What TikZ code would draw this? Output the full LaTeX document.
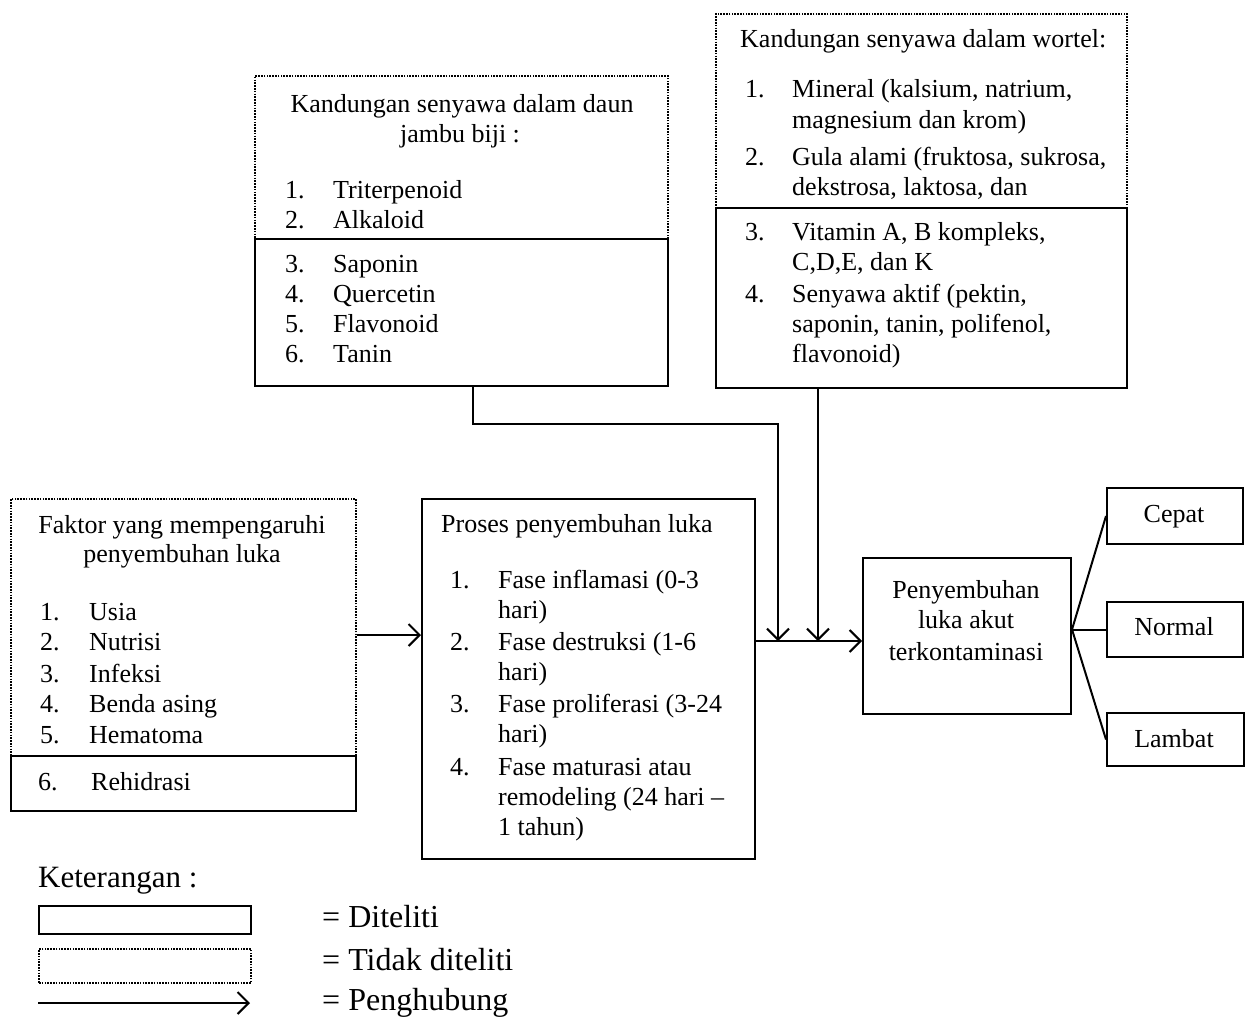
\documentclass[tikz,border=0pt]{standalone}
\usepackage{fontspec}
\setmainfont{Liberation Serif}
\usetikzlibrary{arrows.meta}
\begin{document}
\begin{tikzpicture}[x=1pt,y=-1pt,
  solidbox/.style={draw, line width=2pt, inner sep=0pt, anchor=north west},
  dotbox/.style={draw, line width=2pt, dash pattern=on 1.6pt off 1.2pt, inner sep=0pt, anchor=north west},
  txt/.style={inner sep=0pt, anchor=base west, font=\fontsize{26}{31}\selectfont},
  ctxt/.style={txt, anchor=base},
  ltxt/.style={inner sep=0pt, anchor=base west, font=\fontsize{32}{36}\selectfont},
  conn/.style={line width=2pt},
  arr/.style={conn, -{Straight Barb[length=11pt,width=22pt,line width=2pt]}}
]
\newcommand\tl[4]{\node[txt] (#1) at (#2,#3) {#4};}
\useasboundingbox (0,0) rectangle (1252,1018);

% --- daun jambu biji box
\node[dotbox, minimum width=413pt, minimum height=310pt] (jambu) at (254,75) {};
\node[solidbox, minimum width=413pt, minimum height=147pt] (jambuS) at (254,238) {};
\node[ctxt] (jh1) at (462,112) {Kandungan senyawa dalam daun};
\node[ctxt] (jh2) at (460,142) {jambu biji :};
\tl{jn1}{285}{198}{1.}\tl{ji1}{333}{198}{Triterpenoid}
\tl{jn2}{285}{228}{2.}\tl{ji2}{333}{228}{Alkaloid}
\tl{jn3}{285}{272}{3.}\tl{ji3}{333}{272}{Saponin}
\tl{jn4}{285}{302}{4.}\tl{ji4}{333}{302}{Quercetin}
\tl{jn5}{285}{332}{5.}\tl{ji5}{333}{332}{Flavonoid}
\tl{jn6}{285}{362}{6.}\tl{ji6}{333}{362}{Tanin}

% --- wortel box
\node[dotbox, minimum width=411pt, minimum height=374pt] (wort) at (715,13) {};
\node[solidbox, minimum width=411pt, minimum height=180pt] (wortS) at (715,207) {};
\tl{wh}{740}{47}{Kandungan senyawa dalam wortel:}
\tl{wn1}{745}{97}{1.}\tl{wi1a}{792}{97}{Mineral (kalsium, natrium,}
\tl{wi1b}{792}{128}{magnesium dan krom)}
\tl{wn2}{745}{165}{2.}\tl{wi2a}{792}{165}{Gula alami (fruktosa, sukrosa,}
\tl{wi2b}{792}{195}{dekstrosa, laktosa, dan}
\tl{wn3}{745}{240}{3.}\tl{wi3a}{792}{240}{Vitamin A, B kompleks,}
\tl{wi3b}{792}{270}{C,D,E, dan K}
\tl{wn4}{745}{302}{4.}\tl{wi4a}{792}{302}{Senyawa aktif (pektin,}
\tl{wi4b}{792}{332}{saponin, tanin, polifenol,}
\tl{wi4c}{792}{362}{flavonoid)}

% --- faktor box
\node[dotbox, minimum width=345pt, minimum height=312pt] (faktor) at (10,498) {};
\node[solidbox, minimum width=345pt, minimum height=55pt] (faktorS) at (10,755) {};
\node[ctxt] (fh1) at (182,533) {Faktor yang mempengaruhi};
\node[ctxt] (fh2) at (182,562) {penyembuhan luka};
\tl{fn1}{40}{620}{1.}\tl{fi1}{89}{620}{Usia}
\tl{fn2}{40}{650}{2.}\tl{fi2}{89}{650}{Nutrisi}
\tl{fn3}{40}{682}{3.}\tl{fi3}{89}{682}{Infeksi}
\tl{fn4}{40}{712}{4.}\tl{fi4}{89}{712}{Benda asing}
\tl{fn5}{40}{743}{5.}\tl{fi5}{89}{743}{Hematoma}
\tl{fn6}{38}{790}{6.}\tl{fi6}{91}{790}{Rehidrasi}

% --- proses box
\node[solidbox, minimum width=333pt, minimum height=360pt] (proses) at (421,498) {};
\tl{ph}{441}{532}{Proses penyembuhan luka}
\tl{pn1}{450}{588}{1.}\tl{pi1a}{498}{588}{Fase inflamasi (0-3}
\tl{pi1b}{498}{618}{hari)}
\tl{pn2}{450}{650}{2.}\tl{pi2a}{498}{650}{Fase destruksi (1-6}
\tl{pi2b}{498}{680}{hari)}
\tl{pn3}{450}{712}{3.}\tl{pi3a}{498}{712}{Fase proliferasi (3-24}
\tl{pi3b}{498}{742}{hari)}
\tl{pn4}{450}{775}{4.}\tl{pi4a}{498}{775}{Fase maturasi atau}
\tl{pi4b}{498}{805}{remodeling (24 hari --}
\tl{pi4c}{498}{835}{1 tahun)}

% --- penyembuhan box
\node[solidbox, minimum width=208pt, minimum height=156pt] (peny) at (862,557) {};
\node[ctxt] (py1) at (966,598) {Penyembuhan};
\node[ctxt] (py2) at (966,628) {luka akut};
\node[ctxt] (py3) at (966,660) {terkontaminasi};

% --- outcome boxes
\node[solidbox, minimum width=136pt, minimum height=56pt] (cepat) at (1106,487) {};
\node[solidbox, minimum width=136pt, minimum height=55pt] (normal) at (1106,601) {};
\node[solidbox, minimum width=137pt, minimum height=53pt] (lambat) at (1106,712) {};
\node[ctxt] (tc) at (1174,522) {Cepat};
\node[ctxt] (tn) at (1174,635) {Normal};
\node[ctxt] (tla) at (1174,747) {Lambat};

% --- connectors
\coordinate (pout) at (754,641);
\coordinate (jx) at (473,0);
\coordinate (wx) at (818,0);
\coordinate (bend) at (778,424);
\coordinate (fy) at (0,635);
\draw[arr] (faktor.east |- fy) -- (proses.west |- fy);
\draw[arr] (proses.east |- pout) -- (peny.west |- pout);
\draw[arr] (jambuS.south -| jx) |- (bend) -- (bend |- pout);
\draw[arr] (wortS.south -| wx) -- (wx |- pout);
\coordinate (o) at (peny.east |- normal.west);
\draw[conn] (cepat.west) -- (o) -- (lambat.west);
\draw[conn] (o) -- (normal.west);

% --- legend
\node[ltxt, font=\fontsize{31}{36}\selectfont] (ket) at (38,887) {Keterangan :};
\node[solidbox, minimum width=212pt, minimum height=28pt] (lg1) at (38,905) {};
\node[dotbox, minimum width=212pt, minimum height=34pt] (lg2) at (38,948) {};
\coordinate (la) at (38,1003);
\coordinate (lb) at (250,1003);
\draw[arr] (la) -- (lb);
\node[ltxt] (l1) at (322,927) {= Diteliti};
\node[ltxt] (l2) at (322,970) {= Tidak diteliti};
\node[ltxt] (l3) at (322,1010) {= Penghubung};
\end{tikzpicture}
\end{document}
